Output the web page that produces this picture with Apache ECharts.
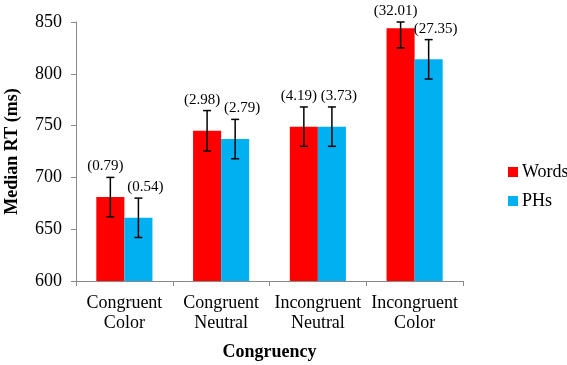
<!DOCTYPE html>
<html>
<head>
<meta charset="utf-8">
<script src="https://cdn.jsdelivr.net/npm/echarts@6/dist/echarts.min.js"></script>
<style>
  html, body { margin: 0; padding: 0; background: #fff; }
  #chart { width: 567px; height: 365px; }
</style>
</head>
<body>
<div id="chart"></div>
<script>
const categories = ['Congruent\nColor', 'Congruent\nNeutral', 'Incongruent\nNeutral', 'Incongruent\nColor'];
const words = [681, 745, 749, 844];
const phs = [661, 737, 749, 814];
const wordsErr = [19, 19.5, 19, 19];
const phsErr = [19, 19, 19, 19];
const wordsLabels = ['(0.79)', '(2.98)', '(4.19)', '(32.01)'];
const phsLabels = ['(0.54)', '(2.79)', '(3.73)', '(27.35)'];

const FONT = '"Liberation Serif", "Times New Roman", serif';
const Y_MAX = 850;
const BAR_FRAC = 0.29;

// error bar + value label drawn on top of a bar series
function errorSeries(name, values, errs, labels, side, labelShift) {
  return {
    name: name + ' err',
    type: 'custom',
    z: 10,
    data: values.map((v, i) => [i, v, errs[i]]),
    encode: { x: 0, y: 1 },
    renderItem: (params, api) => {
      const i = api.value(0);
      const v = api.value(1);
      const e = api.value(2);
      const band = api.size([1, 0])[0];
      const dx = side * band * BAR_FRAC / 2;
      const top = api.coord([i, Math.min(v + e, Y_MAX)]);
      const bot = api.coord([i, v - e]);
      const x = top[0] + dx;
      const cap = 4;
      const style = { stroke: '#000', lineWidth: 1.5 };
      return {
        type: 'group',
        children: [
          { type: 'line', shape: { x1: x, y1: top[1], x2: x, y2: bot[1] }, style },
          { type: 'line', shape: { x1: x - cap, y1: top[1], x2: x + cap, y2: top[1] }, style },
          { type: 'line', shape: { x1: x - cap, y1: bot[1], x2: x + cap, y2: bot[1] }, style },
          {
            type: 'text',
            x: x + labelShift,
            y: top[1] - 11,
            style: {
              text: labels[params.dataIndex],
              font: '15px ' + FONT,
              fill: '#000',
              align: 'center',
              verticalAlign: 'middle'
            }
          }
        ]
      };
    }
  };
}

const chart = echarts.init(document.getElementById('chart'), null, { renderer: 'canvas' });

chart.setOption({
  animation: false,
  grid: { left: 76, right: 104, top: 22, bottom: 84, containLabel: false, outerBoundsMode: 'none' },
  legend: {
    data: ['Words', 'PHs'],
    orient: 'vertical',
    left: 503,
    top: 158,
    icon: 'rect',
    itemWidth: 10,
    itemHeight: 10,
    itemGap: 11,
    textStyle: { fontFamily: FONT, fontSize: 18, color: '#000', padding: [0, 0, 0, -1] }
  },
  xAxis: {
    type: 'category',
    data: categories,
    name: 'Congruency',
    nameLocation: 'middle',
    nameGap: 62,
    nameTextStyle: { fontFamily: FONT, fontSize: 18, fontWeight: 'bold', color: '#000' },
    axisLine: { lineStyle: { color: '#898989', width: 1 } },
    axisTick: { show: true, length: 5, lineStyle: { color: '#898989' } },
    axisLabel: { interval: 0, fontFamily: FONT, fontSize: 18, color: '#000', lineHeight: 20, margin: 12 }
  },
  yAxis: {
    type: 'value',
    min: 600,
    max: Y_MAX,
    interval: 50,
    name: 'Median RT (ms)',
    nameLocation: 'middle',
    nameGap: 55,
    nameTextStyle: { fontFamily: FONT, fontSize: 18, fontWeight: 'bold', color: '#000' },
    splitLine: { show: false },
    axisLine: { show: true, lineStyle: { color: '#898989', width: 1 } },
    axisTick: { show: true, length: 5, lineStyle: { color: '#898989' } },
    axisLabel: { fontFamily: FONT, fontSize: 18, color: '#000', margin: 14 }
  },
  series: [
    {
      name: 'Words',
      type: 'bar',
      data: words,
      barWidth: (BAR_FRAC * 100) + '%',
      barGap: '0%',
      itemStyle: { color: '#FF0000' }
    },
    {
      name: 'PHs',
      type: 'bar',
      data: phs,
      barWidth: (BAR_FRAC * 100) + '%',
      barGap: '0%',
      itemStyle: { color: '#00B0F0' }
    },
    errorSeries('Words', words, wordsErr, wordsLabels, -1, -5),
    errorSeries('PHs', phs, phsErr, phsLabels, 1, 7)
  ]
});
</script>
</body>
</html>
